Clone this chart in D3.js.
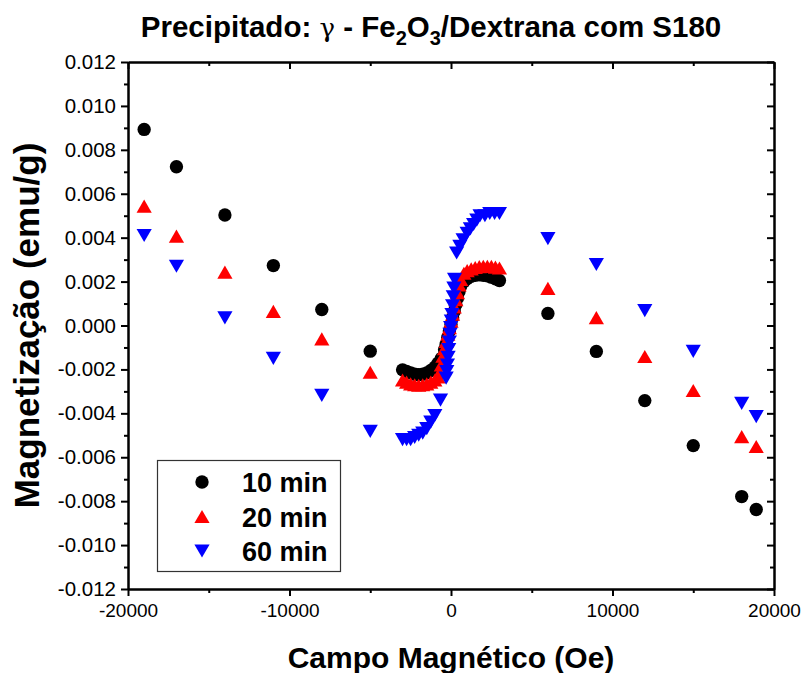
<!DOCTYPE html>
<html><head><meta charset="utf-8">
<script src="https://cdn.jsdelivr.net/npm/d3@7"></script>
<style>
body{margin:0;background:#fff}
svg{display:block}
text{font-family:"Liberation Sans",Arial,Helvetica,sans-serif}
</style>
</head><body>
<svg id="chart" width="803" height="673"></svg>
<script>
// ---- data ----
const xTickValues = [-20000, -10000, 0, 10000, 20000];
const xMinorValues = [-15000, -5000, 5000, 15000];
const yTickValues = [-0.012, -0.010, -0.008, -0.006, -0.004, -0.002, 0, 0.002, 0.004, 0.006, 0.008, 0.010, 0.012];
const yMinorValues = [-0.011, -0.009, -0.007, -0.005, -0.003, -0.001, 0.001, 0.003, 0.005, 0.007, 0.009, 0.011];
const seriesNames = ["10 min", "20 min", "60 min"];

const H10 = [-19000,-17000,-14000,-11000,-8000,-5000,
  -3000,-2750,-2500,-2250,-2000,-1750,-1500,-1250,-1000,
  -800,-600,-400,-300,-200,-100,0,100,200,300,400,500,600,800,
  1000,1250,1500,1750,2000,2250,2500,2750,3000,
  6000,9000,12000,15000,18000,18900];
const M10 = [0.00893,0.00723,0.00503,0.00273,0.00073,-0.00117,
  -0.00202,-0.00209,-0.00216,-0.00222,-0.00224,-0.00222,-0.00216,-0.00205,-0.00190,
  -0.00172,-0.00150,-0.00110,-0.00085,-0.00055,-0.00025,0.00005,0.00035,0.00065,0.00095,0.00125,0.00155,0.00180,0.00200,
  0.00214,0.00224,0.00229,0.00231,0.00229,0.00226,0.00220,0.00213,0.00205,
  0.00055,-0.00118,-0.00342,-0.00547,-0.00779,-0.00838];

const H20 = [-19000,-17000,-14000,-11000,-8000,-5000,
  -3000,-2750,-2500,-2250,-2000,-1750,-1500,-1250,-1000,
  -800,-700,-600,-500,-400,-300,-200,-100,0,100,200,300,400,500,600,
  800,
  1000,1250,1500,1750,2000,2250,2500,2750,3000,
  6000,9000,12000,15000,18000,18900];
const M20 = [0.00544,0.00407,0.00243,0.00064,-0.00061,-0.00213,
  -0.00248,-0.00258,-0.00266,-0.00270,-0.00272,-0.00270,-0.00266,-0.00258,-0.00248,
  -0.00234,-0.00215,-0.00180,-0.00140,-0.00105,-0.00072,-0.00040,-0.00010,0.00020,0.00052,0.00085,0.00118,0.00150,0.00185,0.00210,
  0.00238,
  0.00250,0.00258,0.00264,0.00268,0.00270,0.00270,0.00269,0.00266,0.00262,
  0.00169,0.00036,-0.00141,-0.00296,-0.00506,-0.00551];

const H60 = [-19000,-17000,-14000,-11000,-8000,-5000,
  -3000,-2750,-2500,-2250,-2000,-1750,-1500,-1250,-1000,
  -650,
  -300,-260,-220,-180,-140,-100,-60,-20,20,60,100,140,180,220,
  350,550,750,1000,1200,1400,1600,1800,2100,2400,2700,3000,
  6000,9000,12000,15000,18000,18900];
const M60 = [0.00410,0.00270,0.00035,-0.00150,-0.00318,-0.00482,
  -0.00520,-0.00520,-0.00520,-0.00510,-0.00500,-0.00490,-0.00470,-0.00440,-0.00410,
  -0.00340,
  -0.00240,-0.00210,-0.00180,-0.00145,-0.00110,-0.00075,-0.00040,-0.00010,0.00020,0.00050,0.00090,0.00130,0.00170,0.00210,
  0.00330,0.00360,0.00390,0.00420,0.00440,0.00460,0.00480,0.00500,0.00500,0.00510,0.00510,0.00510,
  0.00396,0.00278,0.00068,-0.00118,-0.00355,-0.00415];

// ---- layout ----
const svg = d3.select("#chart");
const L = 128, R = 774, T = 62, B = 589;
const x = d3.scaleLinear().domain([-20000, 20000]).range([L, R]);
const y = d3.scaleLinear().domain([-0.012, 0.012]).range([B, T]);

// custom triangles centred on their bounding box
const triUp = {draw(ctx, size){ const s = Math.sqrt(size*4/Math.sqrt(3)), h = s*Math.sqrt(3)/2;
  ctx.moveTo(0,-h/2); ctx.lineTo(s/2,h/2); ctx.lineTo(-s/2,h/2); ctx.closePath(); }};
const triDown = {draw(ctx, size){ const s = Math.sqrt(size*4/Math.sqrt(3)), h = s*Math.sqrt(3)/2;
  ctx.moveTo(0,h/2); ctx.lineTo(s/2,-h/2); ctx.lineTo(-s/2,-h/2); ctx.closePath(); }};

const series = [
  {name: seriesNames[0], H: H10, M: M10, color: "#000000", type: d3.symbolCircle, size: 140},
  {name: seriesNames[1], H: H20, M: M20, color: "#ff0000", type: triUp, size: 100},
  {name: seriesNames[2], H: H60, M: M60, color: "#0000ff", type: triDown, size: 100}
];

// ---- axes ----
function styleAxis(fs){
  return g => {
    g.selectAll(".domain").attr("stroke","#000").attr("stroke-width",2);
    g.selectAll(".tick line").attr("stroke","#000").attr("stroke-width",2);
    g.selectAll(".tick text").attr("fill","#000").style("font-size",fs)
      .style("font-family",'"Liberation Sans",Arial,sans-serif');
  };
}
const fmtX = d => String(d);
const fmtY = d => d.toFixed(3);

// bottom
svg.append("g").attr("transform",`translate(0,${B})`)
  .call(d3.axisBottom(x).tickValues(xMinorValues).tickSize(4).tickSizeOuter(0).tickFormat(""))
  .call(styleAxis("19px"));
svg.append("g").attr("transform",`translate(0,${B})`)
  .call(d3.axisBottom(x).tickValues(xTickValues).tickSize(7).tickSizeOuter(0).tickPadding(8).tickFormat(fmtX))
  .call(styleAxis("19px"));
// top (inward)
svg.append("g").attr("transform",`translate(0,${T})`)
  .call(d3.axisBottom(x).tickValues(xMinorValues).tickSize(4).tickSizeOuter(0).tickFormat(""))
  .call(styleAxis("19px"));
svg.append("g").attr("transform",`translate(0,${T})`)
  .call(d3.axisBottom(x).tickValues(xTickValues).tickSize(7).tickSizeOuter(0).tickFormat(""))
  .call(styleAxis("19px"));
// left
svg.append("g").attr("transform",`translate(${L},0)`)
  .call(d3.axisLeft(y).tickValues(yMinorValues).tickSize(4).tickSizeOuter(0).tickFormat(""))
  .call(styleAxis("20.5px"));
svg.append("g").attr("transform",`translate(${L},0)`)
  .call(d3.axisLeft(y).tickValues(yTickValues).tickSize(7).tickSizeOuter(0).tickPadding(5).tickFormat(fmtY))
  .call(styleAxis("20.5px"));
// right (inward)
svg.append("g").attr("transform",`translate(${R},0)`)
  .call(d3.axisLeft(y).tickValues(yMinorValues).tickSize(4).tickSizeOuter(0).tickFormat(""))
  .call(styleAxis("20.5px"));
svg.append("g").attr("transform",`translate(${R},0)`)
  .call(d3.axisLeft(y).tickValues(yTickValues).tickSize(7).tickSizeOuter(0).tickFormat(""))
  .call(styleAxis("20.5px"));

// ---- points ----
series.forEach(s => {
  const sym = d3.symbol().type(s.type).size(s.size);
  svg.append("g").attr("class","series")
    .selectAll("path").data(s.H.map((h,i)=>({h, m: s.M[i]})))
    .join("path")
    .attr("transform", d => `translate(${x(d.h)},${y(d.m)})`)
    .attr("d", sym)
    .attr("fill", s.color);
});

// ---- legend ----
const lg = svg.append("g");
lg.append("rect").attr("x",157.5).attr("y",460.5).attr("width",183).attr("height",111)
  .attr("fill","#fff").attr("stroke","#333").attr("stroke-width",1.2);
series.forEach((s,i) => {
  const cy = 482 + i*34.5;
  lg.append("path").attr("transform",`translate(202,${cy})`)
    .attr("d", d3.symbol().type(s.type).size(s.size)).attr("fill", s.color);
  lg.append("text").attr("x",242).attr("y",cy+10).text(s.name)
    .style("font-size","27px").style("font-weight","bold");
});

// ---- titles ----
const title = svg.append("text").attr("x",431).attr("y",37).attr("text-anchor","middle")
  .style("font-size","29.5px").style("font-weight","bold");
title.append("tspan").text("Precipitado: ");
title.append("tspan").text("γ").style("font-family",'"DejaVu Serif","Liberation Serif",serif').style("font-weight","normal").style("font-size","26px");
title.append("tspan").text(" - Fe");
title.append("tspan").text("2").attr("dy",8).style("font-size","20px");
title.append("tspan").text("O").attr("dy",-8);
title.append("tspan").text("3").attr("dy",8).style("font-size","20px");
title.append("tspan").text("/Dextrana com S180").attr("dy",-8);

svg.append("text").attr("x",(L+R)/2).attr("y",668).attr("text-anchor","middle")
  .style("font-size","30px").style("font-weight","bold").text("Campo Magnético (Oe)");
svg.append("text").attr("transform",`translate(39,${(T+B)/2}) rotate(-90)`).attr("text-anchor","middle")
  .style("font-size","35px").style("font-weight","bold").text("Magnetização (emu/g)");
</script>
</body></html>
